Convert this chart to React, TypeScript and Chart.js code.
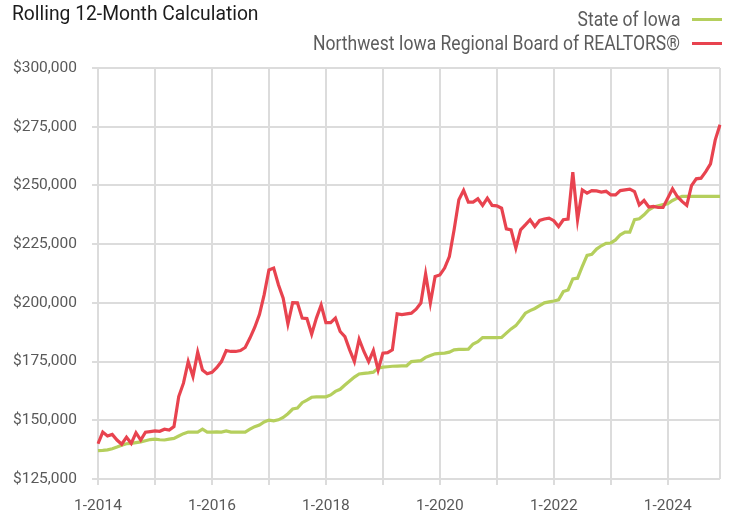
import React, { useEffect, useRef } from "react";
import { Chart, registerables } from "chart.js";

Chart.register(...registerables);

const START_YEAR = 2014;
const MONTH_COUNT = 132;
const monthLabels: string[] = [];
for (let i = 0; i < MONTH_COUNT; i++) {
  monthLabels.push(`${(i % 12) + 1}-${START_YEAR + Math.floor(i / 12)}`);
}

const seriesNames = ["State of Iowa", "Northwest Iowa Regional Board of REALTORS®"];

const stateOfIowa = [
  137100, 137200, 137400, 137900, 138600, 139400, 140000, 140200, 140500, 140800, 141300, 141800,
  142000, 141700, 141600, 142000, 142300, 143300, 144300, 145000, 145000, 145000, 146200, 145000,
  145000, 145100, 145000, 145500, 145000, 145000, 145000, 145000, 146200, 147300, 148000, 149300,
  150100, 149800, 150200, 151200, 152800, 154800, 155200, 157500, 158600, 159800, 160000, 160000,
  160000, 160800, 162300, 163200, 165000, 166700, 168400, 169700, 170000, 170200, 170500, 172200,
  172600, 172800, 173000, 173100, 173200, 173200, 175000, 175200, 175400, 176800, 177600, 178300,
  178500, 178600, 179000, 180000, 180200, 180200, 180300, 182500, 183500, 185200, 185200, 185200,
  185200, 185300, 187100, 188900, 190300, 192800, 195600, 196700, 197600, 198800, 200000, 200400,
  200800, 201300, 204800, 205500, 210200, 210500, 215500, 220200, 220700, 222900, 224300, 225300,
  225500, 226800, 229000, 230100, 230100, 235400, 235800, 237500, 239600, 240800, 241300, 241800,
  242200, 243600, 244600, 245300, 245300, 245300, 245300, 245300, 245300, 245300, 245300, 245300,
];

const northwestIowa = [
  140000, 145000, 143300, 144000, 141600, 139800, 142800, 140200, 144700, 141600, 144900, 145200,
  145500, 145300, 146200, 145800, 147300, 160100, 165800, 175000, 168600, 179000, 171400, 169800,
  170400, 172400, 175000, 179700, 179300, 179300, 179700, 181000, 185000, 189500, 195000, 203500,
  214000, 214800, 207700, 202000, 191000, 200100, 200000, 193500, 193300, 186700, 193500, 199100,
  191600, 191600, 193500, 187800, 185600, 180000, 175000, 184500, 179300, 175000, 179700, 171400,
  178600, 178800, 180000, 195300, 195000, 195300, 195600, 197300, 199900, 212300, 199900, 211200,
  211900, 214800, 219700, 231100, 243900, 247900, 242900, 242900, 244300, 241500, 244600, 241500,
  241300, 240300, 231500, 231100, 223300, 231100, 233200, 235400, 232500, 235100, 235700, 236100,
  235000, 232500, 235400, 235700, 255700, 235400, 248100, 246700, 247800, 247700, 247200, 247500,
  246000, 246000, 247800, 248100, 248400, 247400, 241700, 243600, 240800, 241100, 240600, 240600,
  244600, 248600, 245300, 243200, 241500, 249900, 252800, 253100, 255900, 259200, 269400, 275800,
];

const Y_MIN = 125000;
const Y_MAX = 300000;
const Y_STEP = 25000;

const GREEN = "#B5CF5D";
const RED = "#E8434F";
const GRID = "#DCDCDC";
const TICK_TEXT = "#595959";

const W = 732;
const H = 515;

export default function App() {
  const canvasRef = useRef<HTMLCanvasElement | null>(null);

  useEffect(() => {
    document.body.style.margin = "0";
    const canvas = canvasRef.current;
    if (!canvas) return;
    const last = MONTH_COUNT - 1;
    const chart = new Chart(canvas, {
      type: "line",
      data: {
        labels: monthLabels,
        datasets: [
          {
            label: seriesNames[0],
            data: stateOfIowa,
            borderColor: GREEN,
            backgroundColor: GREEN,
            borderWidth: 3.2,
            pointRadius: 0,
            tension: 0,
            order: 1,
          },
          {
            label: seriesNames[1],
            data: northwestIowa,
            borderColor: RED,
            backgroundColor: RED,
            borderWidth: 3.2,
            pointRadius: 0,
            tension: 0,
            order: 0,
          },
        ],
      },
      options: {
        animation: false,
        responsive: false,
        devicePixelRatio: 1,
        layout: { padding: { top: 68, right: 10, left: 0, bottom: 0 } },
        plugins: {
          legend: { display: false },
          title: { display: false },
          tooltip: { enabled: false },
        },
        scales: {
          x: {
            type: "category",
            border: { display: false },
            grid: {
              color: (ctx: any) => (ctx.index % 12 === 0 || ctx.index === last ? GRID : "rgba(0,0,0,0)"),
              tickColor: (ctx: any) => (ctx.index % 12 === 0 ? GRID : "rgba(0,0,0,0)"),
              lineWidth: 2,
              tickLength: 6,
            },
            ticks: {
              autoSkip: false,
              maxRotation: 0,
              minRotation: 0,
              padding: 12,
              color: TICK_TEXT,
              font: { family: "Roboto", size: 15.5 },
              callback: (_v: any, i: number) => (i % 24 === 0 ? monthLabels[i] : ""),
            },
            afterFit: (s: any) => {
              s.height = 36;
            },
          },
          y: {
            min: Y_MIN,
            max: Y_MAX,
            border: { display: false },
            grid: { color: GRID, lineWidth: 2, tickLength: 6 },
            ticks: {
              stepSize: Y_STEP,
              padding: 15,
              color: TICK_TEXT,
              font: { family: "Roboto", size: 15.5 },
              callback: (v: any) => "$" + Number(v).toLocaleString("en-US"),
            },
            afterFit: (s: any) => {
              s.width = 98;
            },
          },
        },
      },
    });
    return () => chart.destroy();
  }, []);

  const row = (name: string, color: string, top: number) => (
    <div
      style={{
        position: "absolute",
        right: 10,
        top,
        height: 24,
        display: "flex",
        alignItems: "center",
        whiteSpace: "nowrap",
      }}
    >
      <span
        style={{
          display: "inline-block",
          fontFamily: "Roboto, sans-serif",
          fontSize: 20,
          lineHeight: "24px",
          color: "#5c5c5c",
          transform: "scaleX(0.876)",
          transformOrigin: "right center",
        }}
      >
        {name}
      </span>
      <span
        style={{
          display: "inline-block",
          width: 30,
          height: 3,
          background: color,
          marginLeft: 12,
        }}
      />
    </div>
  );

  return (
    <div style={{ position: "relative", width: W, height: H }}>
      <canvas ref={canvasRef} width={W} height={H} style={{ display: "block", width: W, height: H }} />
      <div
        style={{
          position: "absolute",
          left: 12,
          top: 0,
          height: 26,
          whiteSpace: "nowrap",
        }}
      >
        <span
          style={{
            display: "inline-block",
            fontFamily: "Roboto, sans-serif",
            fontSize: 20.5,
            lineHeight: "26px",
            color: "#1c1c1c",
            transform: "scaleX(0.94)",
            transformOrigin: "left center",
          }}
        >
          Rolling 12-Month Calculation
        </span>
      </div>
      {row(seriesNames[0], GREEN, 7)}
      {row(seriesNames[1], RED, 31)}
    </div>
  );
}
